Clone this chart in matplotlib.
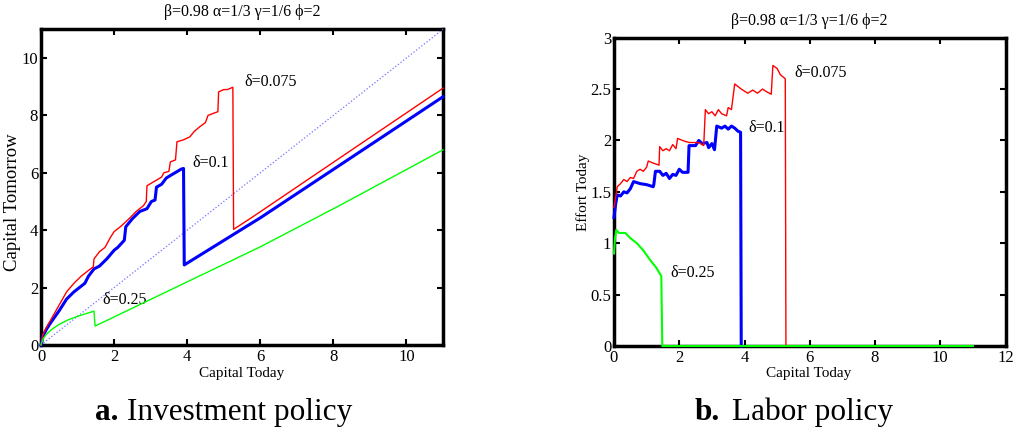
import matplotlib
matplotlib.use("Agg")
import matplotlib.pyplot as plt
from matplotlib.ticker import FormatStrFormatter

plt.rcParams['font.family'] = ['Liberation Serif', 'DejaVu Serif']

# ---------------- data: panel a (investment policy) ----------------
inv_x_075 = [0, 0.05, 0.15, 0.3, 0.5, 0.7, 0.9, 1.1, 1.3, 1.43, 1.45, 1.6, 1.75, 1.9, 2.0, 2.2,
             2.45, 2.6, 2.8, 2.88, 2.9, 3.1, 3.3, 3.36, 3.5, 3.54, 3.68, 3.72, 3.9, 4.07, 4.2,
             4.34, 4.5, 4.57, 4.84, 4.86, 5.0, 5.1, 5.25, 5.27, 5.8, 11]
inv_y_075 = [0, 0.35, 0.62, 0.95, 1.4, 1.85, 2.15, 2.4, 2.6, 2.72, 3.0, 3.25, 3.4, 3.75, 3.95, 4.15,
             4.45, 4.65, 4.85, 5.0, 5.55, 5.7, 5.85, 6.0, 6.05, 6.38, 6.45, 7.08, 7.15, 7.25, 7.45,
             7.6, 7.75, 8.0, 8.13, 8.82, 8.9, 8.9, 8.98, 4.03, 4.47, 8.95]

inv_x_10 = [0, 0.05, 0.15, 0.25, 0.5, 0.7, 0.9, 1.0, 1.1, 1.2, 1.3, 1.45, 1.6, 1.8, 2.0, 2.1,
            2.28, 2.32, 2.5, 2.7, 2.9, 3.02, 3.12, 3.16, 3.3, 3.43, 3.6, 3.84, 3.9, 3.92, 6.0, 11]
inv_y_10 = [0, 0.3, 0.55, 0.75, 1.2, 1.6, 1.85, 1.95, 2.05, 2.15, 2.4, 2.65, 2.75, 3.0, 3.3, 3.4,
            3.65, 4.12, 4.4, 4.65, 4.75, 5.0, 5.05, 5.5, 5.6, 5.82, 5.95, 6.13, 6.15, 2.79, 4.43, 8.65]

inv_x_25 = [0, 0.05, 0.15, 0.3, 0.5, 0.75, 1.0, 1.25, 1.45, 1.48, 4.0, 6.0, 8.2, 11]
inv_y_25 = [0, 0.2, 0.38, 0.55, 0.72, 0.88, 1.0, 1.1, 1.18, 0.66, 2.2, 3.42, 4.88, 6.8]

diag_x = [0, 11]
diag_y = [0, 11]

# ---------------- data: panel b (labor policy) ----------------
# (red and blue stay at 0 after their drop, hidden under the green line and the frame)
lab_x_075 = [0, 0.05, 0.1, 0.2, 0.3, 0.4, 0.5, 0.6, 0.7, 0.8, 0.9, 1.0, 1.05, 1.2, 1.38, 1.4,
             1.5, 1.6, 1.7, 1.8, 1.9, 1.95, 2.1, 2.3, 2.6, 2.75, 2.8, 2.9, 3.0, 3.1, 3.2, 3.3,
             3.45, 3.5, 3.6, 3.7, 3.9, 4.1, 4.25, 4.4, 4.55, 4.7, 4.82, 4.87, 5.0, 5.1, 5.25,
             5.27]
lab_y_075 = [1.35, 1.45, 1.55, 1.58, 1.62, 1.6, 1.64, 1.63, 1.7, 1.72, 1.7, 1.74, 1.8, 1.78, 1.76, 1.94,
             1.9, 1.92, 1.9, 1.96, 1.92, 2.02, 2.0, 1.98, 1.98, 1.95, 2.3, 2.26, 2.28, 2.24, 2.3, 2.26,
             2.24, 2.32, 2.3, 2.55, 2.5, 2.46, 2.49, 2.46, 2.5, 2.47, 2.45, 2.73, 2.7, 2.64, 2.6,
             0]

lab_x_10 = [0, 0.05, 0.1, 0.2, 0.3, 0.4, 0.5, 0.6, 0.8, 1.0, 1.2, 1.22, 1.27, 1.4, 1.5, 1.6, 1.7,
            1.8, 1.9, 2.0, 2.1, 2.27, 2.3, 2.5, 2.6, 2.7, 2.85, 2.9, 3.0, 3.08, 3.15, 3.3, 3.4,
            3.5, 3.6, 3.7, 3.8, 3.88, 3.9]
lab_y_10 = [1.25, 1.38, 1.47, 1.46, 1.5, 1.49, 1.53, 1.6, 1.58, 1.57, 1.55, 1.57, 1.7, 1.7, 1.66, 1.68, 1.63,
            1.67, 1.66, 1.72, 1.69, 1.69, 1.95, 1.95, 2.0, 1.97, 1.98, 1.93, 1.97, 1.91, 2.14, 2.12, 2.14,
            2.11, 2.14, 2.12, 2.09, 2.08, 0]

lab_x_25 = [0, 0.03, 0.07, 0.15, 0.35, 0.5, 0.7, 0.9, 1.1, 1.3, 1.45, 1.48, 11]
lab_y_25 = [0.9, 1.05, 1.13, 1.1, 1.1, 1.05, 1.0, 0.93, 0.84, 0.76, 0.68, 0.0, 0]

title_text = "β=0.98 α=1/3 γ=1/6 ϕ=2"
labels = ["δ=0.075", "δ=0.1", "δ=0.25"]

RED = "#ff0000"
BLUE = "#0000ff"
GREEN = "#00ff00"

W, H = 1013, 434
fig = plt.figure(figsize=(W / 100, H / 100), dpi=100)
ax1 = fig.add_axes([41 / W, 1 - 345 / H, (443 - 41) / W, (345 - 29.3) / H])
ax2 = fig.add_axes([614 / W, 1 - 346 / H, (1005.5 - 614) / W, (346 - 37.7) / H])


def style(ax):
    for s in ax.spines.values():
        s.set_linewidth(2.5)
        s.set_zorder(3.5)
    ax.tick_params(direction='in', length=4, width=1.5, top=True, right=True,
                   labelsize=12, pad=2)
    ax.tick_params(axis='x', pad=3)


# panel a
ax1.plot(diag_x, diag_y, color="#7070ff", ls=':', lw=0.9, zorder=4, clip_on=False)
ax1.plot(inv_x_10, inv_y_10, color=BLUE, lw=2.2, zorder=4, clip_on=False)
ax1.plot(inv_x_075, inv_y_075, color=RED, lw=1.0, zorder=5, clip_on=False)
ax1.plot(inv_x_25, inv_y_25, color=GREEN, lw=1.0, zorder=6, clip_on=False)
ax1.set_xlim(0, 11)
ax1.set_ylim(0, 11)
ax1.set_xticks([0, 2, 4, 6, 8, 10])
ax1.set_yticks([0, 2, 4, 6, 8, 10])
style(ax1)
ax1.text(5.57, 9.16, labels[0], fontsize=11.5, ha='left', va='center')
ax1.text(4.13, 6.34, labels[1], fontsize=11.5, ha='left', va='center')
ax1.text(1.67, 1.57, labels[2], fontsize=11.5, ha='left', va='center')

# panel b
ax2.plot(lab_x_10, lab_y_10, color=BLUE, lw=2.2, zorder=4, clip_on=False)
ax2.plot(lab_x_075, lab_y_075, color=RED, lw=1.0, zorder=5, clip_on=False)
ax2.plot(lab_x_25, lab_y_25, color=GREEN, lw=1.5, zorder=6, clip_on=False)
ax2.set_xlim(0, 12)
ax2.set_ylim(0, 3)
ax2.set_xticks([0, 2, 4, 6, 8, 10, 12])
ax2.set_yticks([0, 0.5, 1, 1.5, 2, 2.5, 3])
ax2.yaxis.set_major_formatter(FormatStrFormatter('%g'))
style(ax2)
ax2.text(5.54, 2.66, labels[0], fontsize=11.5, ha='left', va='center')
ax2.text(4.11, 2.12, labels[1], fontsize=11.5, ha='left', va='center')
ax2.text(1.73, 0.71, labels[2], fontsize=11.5, ha='left', va='center')

# titles
fig.text(242 / W, 1 - 12.5 / H, title_text, fontsize=11.5, ha='center', va='center')
fig.text(809 / W, 1 - 21 / H, title_text, fontsize=11.5, ha='center', va='center')

# axis labels
fig.text(242 / W, 1 - 373 / H, "Capital Today", fontsize=11, ha='center', va='center')
fig.text(809 / W, 1 - 373 / H, "Capital Today", fontsize=11, ha='center', va='center')
fig.text(12.6 / W, 1 - 202 / H, "Capital Tomorrow", fontsize=13.5, ha='center', va='center',
         rotation=90)
fig.text(583 / W, 1 - 192 / H, "Effort Today", fontsize=11, ha='center', va='center',
         rotation=90)

# captions
fig.text(118 / W, 1 - 420 / H, "a.", fontsize=22.5, fontweight='bold', ha='right', va='baseline')
fig.text(127 / W, 1 - 420 / H, "Investment policy", fontsize=22.5, ha='left', va='baseline')
fig.text(720 / W, 1 - 420 / H, "b.", fontsize=22.5, fontweight='bold', ha='right', va='baseline')
fig.text(731.7 / W, 1 - 420 / H, "Labor policy", fontsize=22.5, ha='left', va='baseline')

fig.savefig("out.png", dpi=100)
